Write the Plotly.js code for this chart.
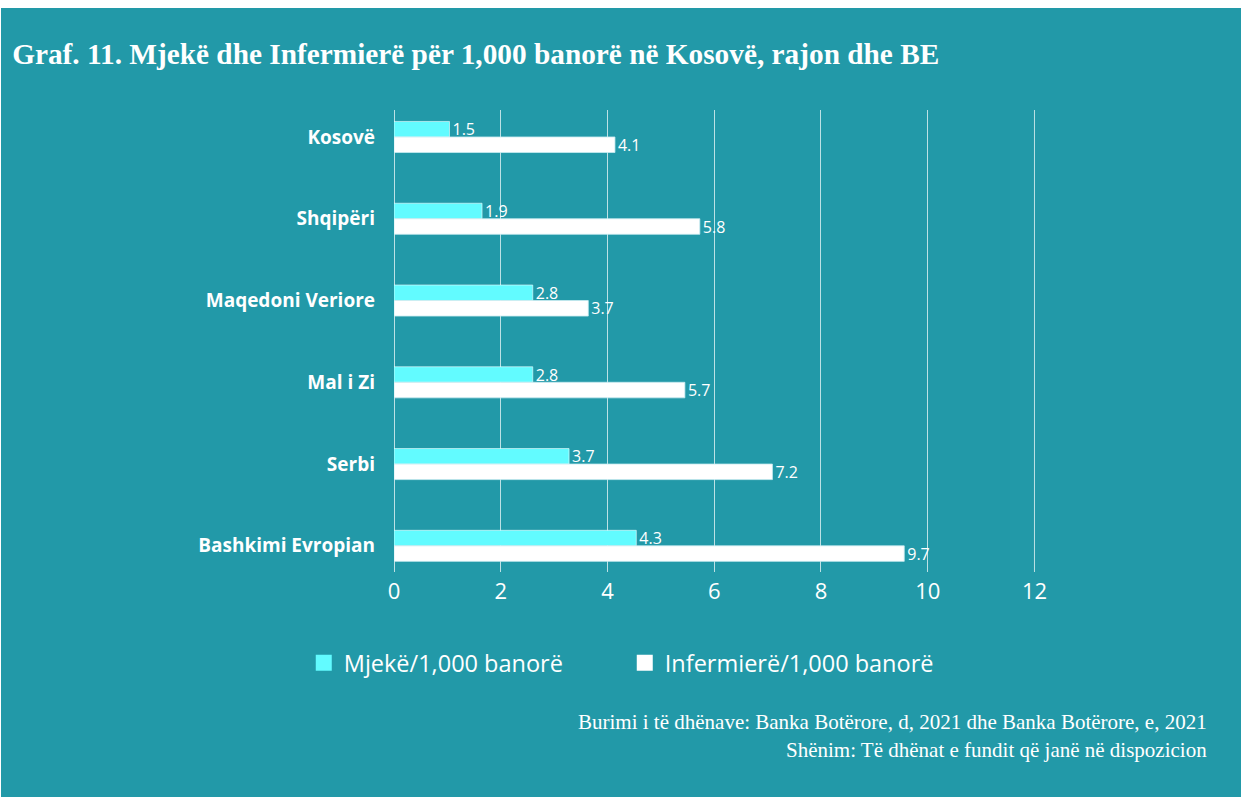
<!DOCTYPE html>
<html>
<head>
<meta charset="utf-8">
<script src="https://cdn.plot.ly/plotly-3.0.1.min.js"></script>
<style>
  html, body { margin: 0; padding: 0; background: #ffffff; width: 1241px; height: 797px; overflow: hidden; }
  #chart { position: absolute; left: 1px; top: 8px; width: 1240px; height: 789px; }
</style>
</head>
<body>
<div id="chart"></div>
<script>
// Categories (top to bottom)
const categories = ["Kosovë", "Shqipëri", "Maqedoni Veriore", "Mal i Zi", "Serbi", "Bashkimi Evropian"];
// Bar lengths as drawn in the reference
const doctorsBars = [1.04, 1.65, 2.60, 2.60, 3.28, 4.54];
const nursesBars  = [4.14, 5.73, 3.64, 5.45, 7.09, 9.56];
// Data labels as printed in the reference
const doctorsLabels = ["1.5", "1.9", "2.8", "2.8", "3.7", "4.3"];
const nursesLabels  = ["4.1", "5.8", "3.7", "5.7", "7.2", "9.7"];
const seriesNames = ["Mjekë/1,000 banorë", "Infermierë/1,000 banorë"];
const xTicks = [0, 2, 4, 6, 8, 10, 12];

const BG = "#2299A8";
const GRID = "rgba(255,255,255,0.7)";
const CYAN = "#62FBFF";
const labelFont = { family: "Open Sans, sans-serif", size: 16, color: "#ffffff" };

const traces = [
  {
    type: "bar", orientation: "h", name: seriesNames[0], showlegend: false,
    y: categories, x: doctorsBars, text: doctorsLabels,
    textposition: "outside", constraintext: "none", cliponaxis: false, textfont: labelFont,
    marker: { color: CYAN, line: { color: "rgba(255,255,255,0.55)", width: 1 } },
    hoverinfo: "skip"
  },
  {
    type: "bar", orientation: "h", name: seriesNames[1], showlegend: false,
    y: categories, x: nursesBars, text: nursesLabels,
    textposition: "outside", constraintext: "none", cliponaxis: false, textfont: labelFont,
    marker: { color: "#ffffff", line: { color: "rgba(200,235,240,0.8)", width: 1 } },
    hoverinfo: "skip"
  },
  // legend-only entries (larger square swatches)
  {
    type: "scatter", mode: "markers", name: seriesNames[0], x: [null], y: [null],
    marker: { symbol: "square", size: 18, color: CYAN }, hoverinfo: "skip"
  },
  {
    type: "scatter", mode: "markers", name: seriesNames[1], x: [null], y: [null],
    marker: { symbol: "square", size: 18, color: "#ffffff" }, hoverinfo: "skip"
  }
];

const layout = {
  width: 1240, height: 789,
  paper_bgcolor: BG, plot_bgcolor: BG,
  margin: { l: 393, r: 206, t: 102, b: 225, autoexpand: false },
  barmode: "group", bargap: 0.62, bargroupgap: 0,
  showlegend: true,
  title: {
    text: "<b>Graf. 11. Mjekë dhe Infermierë për 1,000 banorë në Kosovë, rajon dhe BE</b>",
    font: { family: "Liberation Serif, Times New Roman, serif", size: 29.3, color: "#ffffff" },
    xref: "container", x: 0.009, xanchor: "left",
    yref: "container", y: 0.942, yanchor: "middle"
  },
  xaxis: {
    range: [0, 12.01], tickvals: xTicks, ticktext: xTicks.map(String),
    showgrid: true, gridcolor: GRID, gridwidth: 1,
    zeroline: true, zerolinecolor: GRID, zerolinewidth: 1,
    showline: false, ticks: "", ticklabelstandoff: 4,
    tickfont: { family: "Open Sans, sans-serif", size: 22, color: "#ffffff" },
    fixedrange: true
  },
  yaxis: {
    type: "category", categoryorder: "array", categoryarray: categories,
    range: [5.32, -0.33],
    showgrid: false, zeroline: false, showline: false, ticks: "",
    ticklabelstandoff: 18,
    tickfont: { family: "Open Sans, sans-serif", size: 19, color: "#ffffff", weight: "bold" },
    fixedrange: true
  },
  shapes: [
    { type: "line", xref: "x", yref: "paper", x0: 12, x1: 12, y0: 0, y1: 1,
      line: { color: GRID, width: 1 }, layer: "below" }
  ],
  legend: {
    orientation: "h", xref: "paper", x: 0.36, xanchor: "center",
    yref: "paper", y: -0.197, yanchor: "middle",
    font: { family: "Open Sans, sans-serif", size: 23.5, color: "#ffffff" },
    bgcolor: "rgba(0,0,0,0)", itemwidth: 30, itemsizing: "trace", entrywidth: 276
  },
  annotations: [
    {
      text: "Burimi i të dhënave: Banka Botërore, d, 2021 dhe Banka Botërore, e, 2021",
      xref: "paper", yref: "paper", x: 1.271, y: -0.325, xanchor: "right", yanchor: "middle",
      showarrow: false, font: { family: "Liberation Serif, Times New Roman, serif", size: 21, color: "#ffffff" }
    },
    {
      text: "Shënim: Të dhënat e fundit që janë në dispozicion",
      xref: "paper", yref: "paper", x: 1.271, y: -0.385, xanchor: "right", yanchor: "middle",
      showarrow: false, font: { family: "Liberation Serif, Times New Roman, serif", size: 21, color: "#ffffff" }
    }
  ]
};

Plotly.newPlot("chart", traces, layout, { displayModeBar: false, staticPlot: true });
</script>
</body>
</html>
